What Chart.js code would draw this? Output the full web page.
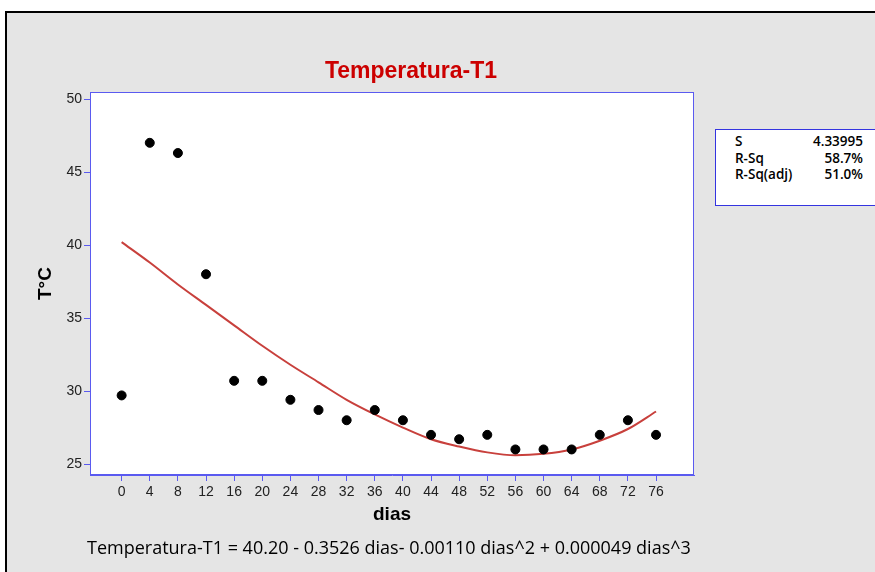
<!DOCTYPE html>
<html><head><meta charset="utf-8">
<script src="https://cdn.jsdelivr.net/npm/chart.js@4"></script>
<style>
html,body{margin:0;padding:0;background:#fff;width:875px;height:572px;overflow:hidden;}
#frame{position:absolute;left:5px;top:11px;width:880px;height:570px;background:#e5e5e5;border-top:2px solid #000;border-left:2px solid #000;}
canvas{position:absolute;left:0;top:0;}
.t{position:absolute;white-space:nowrap;}
#title{left:311px;top:57px;width:200px;text-align:center;font:bold 23px "Liberation Sans",Arial,sans-serif;color:#cc0000;}
#ytitle{left:34px;top:300px;font:bold 19px "Liberation Sans",Arial,sans-serif;color:#000;transform:rotate(-90deg);transform-origin:left top;}
#xtitle{left:373px;top:503px;font:bold 19px "Liberation Sans",Arial,sans-serif;color:#000;}
#eq{left:87px;top:535px;font:18px "Open Sans","Noto Sans",sans-serif;color:#000;}
#stats{position:absolute;left:715px;top:129px;width:170px;height:77px;background:#fff;border:1px solid #3434e0;box-sizing:border-box;font:600 13.5px "Open Sans","Noto Sans",sans-serif;color:#000;}
#stats div{position:absolute;}
</style></head>
<body>
<div id="frame"></div>
<canvas id="c" width="875" height="572"></canvas>
<div class="t" id="title">Temperatura-T1</div>
<div class="t" id="ytitle">T°C</div>
<div class="t" id="xtitle">dias</div>
<div class="t" id="eq">Temperatura-T1 = 40.20 - 0.3526 dias- 0.00110 dias^2 + 0.000049 dias^3</div>
<div id="stats"></div>
<script>
// Observed data
const dias = [0,4,8,12,16,20,24,28,32,36,40,44,48,52,56,60,64,68,72,76];
const temperatura = [29.7,47.0,46.3,38.0,30.7,30.7,29.4,28.7,28.0,28.7,28.0,27.0,26.7,27.0,26.0,26.0,26.0,27.0,28.0,27.0];
// Fitted curve
const fitDias = [0,4,8,12,16,20,24,28,32,36,40,44,48,52,56,60,64,68,72,76];
const fitTemp = [40.2,38.8,37.3,35.9,34.5,33.1,31.8,30.6,29.4,28.4,27.5,26.7,26.2,25.8,25.6,25.7,26.0,26.6,27.4,28.6];
const xTicks = [0,4,8,12,16,20,24,28,32,36,40,44,48,52,56,60,64,68,72,76];
const yTicks = [25,30,35,40,45,50];
const statLabels = ["S","R-Sq","R-Sq(adj)"];
const statValues = ["4.33995","58.7%","51.0%"];

const st = document.getElementById('stats');
statLabels.forEach((l,i)=>{
  const a=document.createElement('div');a.textContent=l;a.style.left='19px';a.style.top=(2+i*16.5)+'px';st.appendChild(a);
  const b=document.createElement('div');b.textContent=statValues[i];b.style.left='60px';b.style.width='87px';b.style.textAlign='right';b.style.top=(2+i*16.5)+'px';st.appendChild(b);
});

const blue='#5a5af0';
const plotBg={id:'plotBg',
  beforeDraw(ch){const a=ch.chartArea,c=ch.ctx;c.save();c.fillStyle='#fff';c.fillRect(a.left,a.top,a.right-a.left,a.bottom-a.top);c.restore();},
  afterDraw(ch){const a=ch.chartArea,c=ch.ctx;c.save();c.strokeStyle=blue;c.lineWidth=1;c.strokeRect(a.left+0.5,a.top+0.5,a.right-a.left-1,a.bottom-a.top-1);c.restore();}
};
new Chart(document.getElementById('c'),{
  type:'scatter',
  data:{datasets:[
    {data:fitDias.map((x,i)=>({x,y:fitTemp[i]})),showLine:true,borderColor:'#c8403c',borderWidth:2,pointRadius:0,tension:0.4,cubicInterpolationMode:'monotone',order:2},
    {data:dias.map((x,i)=>({x,y:temperatura[i]})),backgroundColor:'#000',borderColor:'#000',pointRadius:4.5,showLine:false,order:1}
  ]},
  options:{responsive:false,animation:false,
    layout:{padding:{top:92,right:181,left:0,bottom:0}},
    plugins:{legend:{display:false},tooltip:{enabled:false},title:{display:false}},
    scales:{
      x:{type:'linear',min:-4.5,max:81.4,
        afterBuildTicks(s){s.ticks=xTicks.map(v=>({value:v}));},
        afterFit(s){s.height=97;},
        grid:{drawOnChartArea:false,color:blue,tickLength:6},
        border:{color:blue},
        ticks:{color:'#222',font:{family:'"Liberation Sans",Arial,sans-serif',size:14},padding:3,maxRotation:0,autoSkip:false}},
      y:{type:'linear',min:24.25,max:50.48,
        afterBuildTicks(s){s.ticks=yTicks.map(v=>({value:v}));},
        afterFit(s){s.width=90;},
        grid:{drawOnChartArea:false,color:blue,tickLength:6},
        border:{color:blue},
        ticks:{color:'#222',font:{family:'"Liberation Sans",Arial,sans-serif',size:14},padding:2}}
    }
  },
  plugins:[plotBg]
});
</script>
</body></html>
